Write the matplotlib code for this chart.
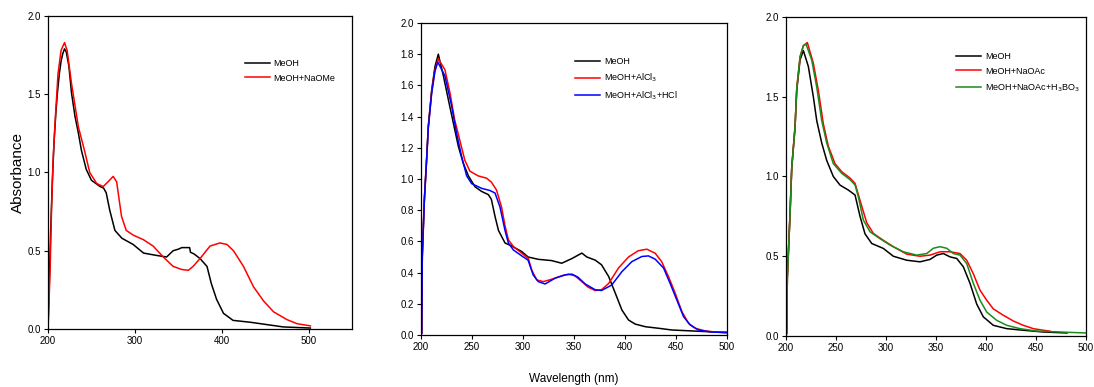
import matplotlib
matplotlib.use("Agg")
import matplotlib.pyplot as plt

plt.rcParams['font.family'] = ['Liberation Sans', 'DejaVu Sans']

# ---------------- Panel 1: MeOH vs MeOH+NaOMe ----------------
p1_meoh_x = [200, 200.7, 201.5, 203, 205, 207, 209, 211, 213, 215, 217, 219, 221, 224, 227, 231, 235,
             238.5, 244, 250, 255, 260, 264, 267, 271, 277, 285, 298, 310, 325, 336.5, 344, 350, 354,
             360, 363, 364, 368, 375, 383, 388, 394, 402, 413, 433, 452, 471, 502]
p1_meoh_y = [0.0, 0.15, 0.30, 0.62, 0.95, 1.20, 1.38, 1.52, 1.63, 1.71, 1.76, 1.79, 1.77, 1.68, 1.51, 1.36, 1.25,
             1.14, 1.02, 0.95, 0.93, 0.91, 0.90, 0.87, 0.76, 0.63, 0.58, 0.54, 0.485, 0.47, 0.46, 0.50, 0.51, 0.52,
             0.52, 0.52, 0.49, 0.48, 0.45, 0.40, 0.29, 0.19, 0.10, 0.055, 0.043, 0.028, 0.013, 0.006]
p1_naome_x = [200, 201, 202.5, 204, 206, 208, 211.5, 215, 219, 222, 227, 235, 242, 248, 256, 263.5, 269,
              275, 279, 284.6, 290, 298, 310, 321, 332.7, 344, 354, 361.5, 367, 375, 386.5, 398, 406,
              413.5, 425, 436.5, 448, 459.6, 475, 486.5, 502]
p1_naome_y = [0.0, 0.15, 0.40, 0.76, 1.10, 1.31, 1.63, 1.78, 1.83, 1.78, 1.57, 1.29, 1.14, 1.00, 0.93, 0.91, 0.94,
              0.975, 0.94, 0.72, 0.63, 0.60, 0.57, 0.53, 0.46, 0.40, 0.38, 0.375, 0.40, 0.45, 0.53, 0.55, 0.54,
              0.50, 0.40, 0.27, 0.18, 0.11, 0.06, 0.034, 0.02]

# ---------------- Panel 2: MeOH, +AlCl3, +AlCl3+HCl ----------------
p2_meoh_x = [200, 200.7, 201.3, 203.3, 205.6, 207.2, 210.5, 213.7, 217, 222, 226.8, 231.7, 236.6, 241.5,
             246.5, 253, 259.5, 266, 269, 272.6, 276, 282.4, 289, 298.8, 305, 315, 328, 338, 348, 357.7,
             362.6, 370.8, 377, 384, 390.4, 397, 403.5, 410, 420, 433, 446, 465.6, 485, 500]
p2_meoh_y = [0.0, 0.01, 0.52, 0.87, 1.14, 1.34, 1.57, 1.72, 1.80, 1.66, 1.51, 1.36, 1.21, 1.10,
             1.02, 0.95, 0.92, 0.90, 0.87, 0.76, 0.67, 0.59, 0.57, 0.535, 0.50, 0.485, 0.477, 0.46, 0.49, 0.525,
             0.50, 0.48, 0.45, 0.375, 0.27, 0.16, 0.096, 0.07, 0.053, 0.043, 0.032, 0.026, 0.02, 0.015]
p2_alcl3_x = [200, 200.7, 201.3, 203.3, 205.6, 207.2, 210.5, 213.7, 217, 223.5, 228.5, 233, 238, 243, 248,
              256, 264.4, 269, 274, 279, 282.4, 285.7, 290.6, 298.8, 305.3, 308.6, 313.5, 320, 328, 338,
              344.6, 351, 357.7, 364, 370.8, 377, 384, 393.7, 403.5, 413, 421.5, 429.6, 436, 442.7, 449.3,
              455.8, 462.3, 468.9, 478.7, 488.5, 500]
p2_alcl3_y = [0.0, 0.01, 0.50, 0.86, 1.13, 1.33, 1.56, 1.70, 1.77, 1.70, 1.55, 1.38, 1.25, 1.12, 1.05,
              1.02, 1.005, 0.98, 0.93, 0.82, 0.70, 0.61, 0.567, 0.524, 0.49, 0.417, 0.353, 0.342, 0.357, 0.379,
              0.39, 0.379, 0.342, 0.306, 0.285, 0.29, 0.33, 0.43, 0.50, 0.54, 0.55, 0.524, 0.47, 0.374, 0.267,
              0.15, 0.075, 0.043, 0.026, 0.019, 0.019]
p2_hcl_x = [200, 200.7, 201.3, 203.3, 205.6, 207.2, 210.5, 213.7, 216.5, 223.5, 230, 235, 240, 244.8,
            249.7, 259.5, 267.7, 272.6, 277.5, 282.4, 285.7, 290.6, 298.8, 305, 310, 315, 321.7, 331.5,
            341, 348, 354, 361, 370.8, 377, 387, 397, 406.7, 416.5, 423, 429.6, 437.8, 444.3, 450.8,
            457.4, 464, 472, 485, 500]
p2_hcl_y = [0.0, 0.01, 0.50, 0.86, 1.13, 1.33, 1.55, 1.69, 1.75, 1.66, 1.47, 1.29, 1.14, 1.02,
            0.97, 0.94, 0.926, 0.91, 0.82, 0.67, 0.59, 0.545, 0.507, 0.48, 0.385, 0.342, 0.327, 0.364,
            0.385, 0.39, 0.37, 0.327, 0.29, 0.285, 0.32, 0.406, 0.47, 0.503, 0.507, 0.486, 0.43, 0.33, 0.225,
            0.118, 0.064, 0.032, 0.019, 0.015]

# ---------------- Panel 3: MeOH, +NaOAc, +NaOAc+H3BO3 ----------------
p3_meoh_x = [200, 200.7, 201.3, 204, 205.7, 209, 210.7, 214, 217.3, 222.3, 227.3, 230.7, 235.7, 240.7,
             247.3, 254, 262.3, 269, 274, 279, 285.7, 297.3, 307.3, 320.7, 334, 344, 350.7, 357.3, 364,
             370.7, 377.3, 384, 390.7, 397.3, 407.3, 420.7, 437.3, 457.3, 481]
p3_meoh_y = [0.0, 0.02, 0.37, 0.77, 1.06, 1.31, 1.54, 1.73, 1.79, 1.69, 1.50, 1.35, 1.21, 1.10,
             1.00, 0.946, 0.915, 0.884, 0.75, 0.64, 0.58, 0.549, 0.50, 0.475, 0.465, 0.48, 0.507, 0.517, 0.496,
             0.486, 0.434, 0.33, 0.20, 0.12, 0.067, 0.046, 0.036, 0.025, 0.019]
p3_naoac_x = [200, 200.7, 201.3, 204, 205.7, 209, 210.7, 214, 217.3, 221.3, 227.3, 232.3, 237.3, 242.3,
              249, 255.7, 264, 269, 274, 280.7, 287.3, 297.3, 307.3, 320.7, 334, 344, 354, 364, 374, 380.7,
              387.3, 394, 400.7, 407.3, 417.3, 427.3, 437.3, 447.3, 457.3, 464]
p3_naoac_y = [0.0, 0.02, 0.36, 0.76, 1.05, 1.31, 1.55, 1.75, 1.82, 1.84, 1.71, 1.54, 1.33, 1.19,
              1.08, 1.03, 0.99, 0.957, 0.85, 0.71, 0.643, 0.60, 0.56, 0.513, 0.50, 0.507, 0.528, 0.528, 0.517,
              0.475, 0.39, 0.287, 0.224, 0.17, 0.13, 0.094, 0.067, 0.046, 0.036, 0.03]
p3_boric_x = [200, 200.7, 201.3, 204, 205.7, 209, 210.7, 214, 217.3, 220, 225.7, 230.7, 235.7, 240.7,
              247.3, 255.7, 264, 269, 272.3, 277.3, 284, 294, 304, 317.3, 330.7, 340.7, 347.3, 354, 360.7,
              367.3, 374, 380.7, 387.3, 394, 400.7, 410.7, 420.7, 434, 450.7, 482.3, 500]
p3_boric_y = [0.0, 0.02, 0.36, 0.76, 1.05, 1.31, 1.55, 1.75, 1.82, 1.83, 1.73, 1.56, 1.35, 1.21,
              1.08, 1.02, 0.98, 0.947, 0.873, 0.727, 0.653, 0.61, 0.57, 0.528, 0.507, 0.517, 0.55, 0.56, 0.55,
              0.517, 0.507, 0.454, 0.33, 0.224, 0.15, 0.098, 0.067, 0.046, 0.031, 0.023, 0.019]

# labels
p1_labels = ['MeOH', 'MeOH+NaOMe']
p2_labels = ['MeOH', 'MeOH+AlCl$_3$', 'MeOH+AlCl$_3$+HCl']
p3_labels = ['MeOH', 'MeOH+NaOAc', 'MeOH+NaOAc+H$_3$BO$_3$']

p1_yticks = [0.0, 0.5, 1.0, 1.5, 2.0]
p2_yticks = [0.0, 0.2, 0.4, 0.6, 0.8, 1.0, 1.2, 1.4, 1.6, 1.8, 2.0]
p3_yticks = [0.0, 0.5, 1.0, 1.5, 2.0]
p1_xticks = [200, 300, 400, 500]
p2_xticks = [200, 250, 300, 350, 400, 450, 500]
p3_xticks = [200, 250, 300, 350, 400, 450, 500]

fig = plt.figure(figsize=(10.94, 3.87), dpi=100)
ax1 = fig.add_axes([0.0439, 0.1499, 0.2779, 0.8088])
ax2 = fig.add_axes([0.3848, 0.1344, 0.2797, 0.8062])
ax3 = fig.add_axes([0.7185, 0.1318, 0.2742, 0.8243])

lw = 1.1
ax1.plot(p1_meoh_x, p1_meoh_y, color='black', lw=lw, label=p1_labels[0])
ax1.plot(p1_naome_x, p1_naome_y, color='#ff0000', lw=lw, label=p1_labels[1])

ax2.plot(p2_meoh_x, p2_meoh_y, color='black', lw=lw, label=p2_labels[0])
ax2.plot(p2_alcl3_x, p2_alcl3_y, color='#ff0000', lw=lw, label=p2_labels[1])
ax2.plot(p2_hcl_x, p2_hcl_y, color='#0000ff', lw=lw, label=p2_labels[2])

ax3.plot(p3_meoh_x, p3_meoh_y, color='black', lw=lw, label=p3_labels[0])
ax3.plot(p3_naoac_x, p3_naoac_y, color='#ff0000', lw=lw, label=p3_labels[1])
ax3.plot(p3_boric_x, p3_boric_y, color='#1a8c1a', lw=lw, label=p3_labels[2])

ax1.set_xlim(200, 550)
ax2.set_xlim(200, 500)
ax3.set_xlim(200, 500)
for ax in (ax1, ax2, ax3):
    ax.set_ylim(0, 2.0)
    ax.tick_params(direction='out', length=3, width=0.8, labelsize=7, pad=2)
    for s in ax.spines.values():
        s.set_linewidth(0.9)

ax1.set_xticks(p1_xticks)
ax2.set_xticks(p2_xticks)
ax3.set_xticks(p3_xticks)
ax1.set_yticks(p1_yticks)
ax2.set_yticks(p2_yticks)
ax3.set_yticks(p3_yticks)
ax1.set_yticklabels([f'{v:.1f}' for v in p1_yticks])
ax2.set_yticklabels([f'{v:.1f}' for v in p2_yticks])
ax3.set_yticklabels([f'{v:.1f}' for v in p3_yticks])

ax1.set_ylabel('Absorbance', fontsize=11, labelpad=2)
ax2.set_xlabel('Wavelength (nm)', fontsize=8.5, labelpad=15)

leg_kw = dict(frameon=False, fontsize=6.5, handlelength=2.8, handletextpad=0.4, labelspacing=0.6)
ax1.legend(loc='upper left', bbox_to_anchor=(0.62, 0.888), **leg_kw)
ax2.legend(loc='upper left', bbox_to_anchor=(0.477, 0.916), **leg_kw)
ax3.legend(loc='upper left', bbox_to_anchor=(0.54, 0.915), **leg_kw)

fig.savefig('out.png', dpi=100)
